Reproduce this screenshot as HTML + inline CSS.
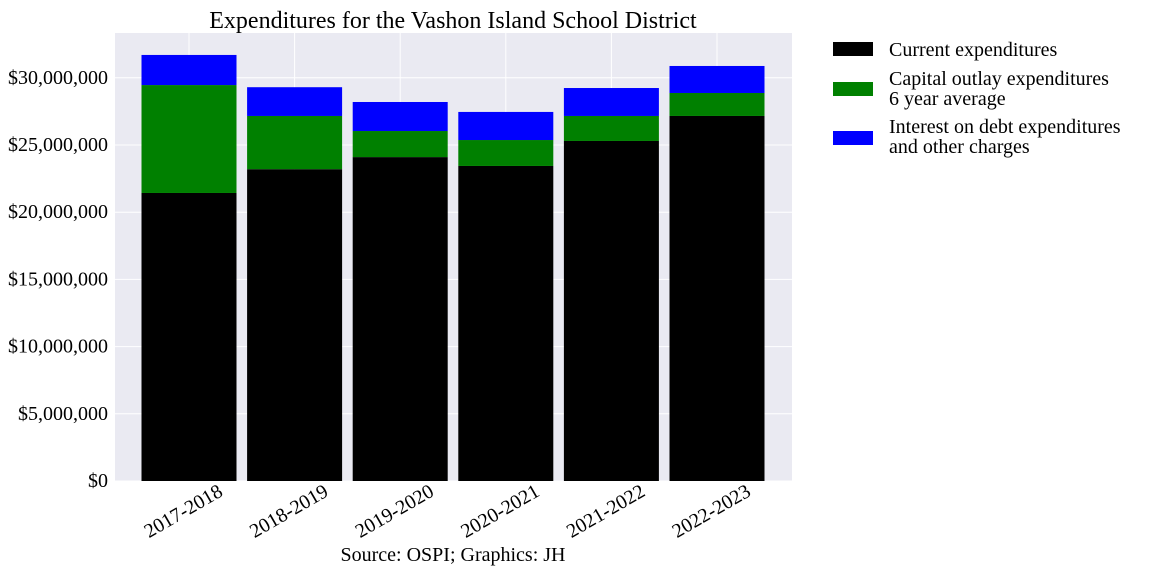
<!DOCTYPE html>
<html><head><meta charset="utf-8"><style>
body{margin:0;background:#fff;}
svg{font-family:"Liberation Serif",serif;}
</style></head><body>
<svg id="chart" width="1152" height="576">
<rect x="115" y="33" width="677" height="448" fill="#eaeaf2"/>
<g id="grid"></g><g id="bars"></g><g id="yticks"></g><g id="xticks"></g>
<text x="453" y="28" font-size="24" text-anchor="middle">Expenditures for the Vashon Island School District</text>
<text x="453" y="561" font-size="20" text-anchor="middle">Source: OSPI; Graphics: JH</text>
<g>
<rect x="833" y="42" width="40" height="14" fill="#000"/>
<text x="889" y="56" font-size="20">Current expenditures</text>
<rect x="833" y="82" width="40" height="14" fill="#008000"/>
<text x="889" y="85" font-size="20">Capital outlay expenditures</text>
<text x="889" y="105" font-size="20">6 year average</text>
<rect x="833" y="131" width="40" height="14" fill="#0000ff"/>
<text x="889" y="133" font-size="20">Interest on debt expenditures</text>
<text x="889" y="153" font-size="20">and other charges</text>
</g>
</svg>
<script>
const categories=["2017-2018","2018-2019","2019-2020","2020-2021","2021-2022","2022-2023"];
const current=[21430000,23200000,24100000,23440000,25300000,27160000];
const capital=[8030000,3960000,1940000,1930000,1860000,1710000];
const interest=[2240000,2140000,2160000,2090000,2080000,2010000];
const yTicks=[0,5000000,10000000,15000000,20000000,25000000,30000000];
const yTickLabels=["$0","$5,000,000","$10,000,000","$15,000,000","$20,000,000","$25,000,000","$30,000,000"];
const NS="http://www.w3.org/2000/svg";
const y=v=>481-v/5e6*67.2;
const x=i=>189+i*105.6;
const bw=95;
function mk(tag,attrs,parent){const e=document.createElementNS(NS,tag);for(const k in attrs)e.setAttribute(k,attrs[k]);document.getElementById(parent).appendChild(e);return e;}
yTicks.forEach((t,i)=>{
 const g=mk("line",{x1:115,x2:792,y1:y(t),y2:y(t),stroke:"#fff","stroke-width":1},"grid");
 
 
 const tx=mk("text",{x:108,y:y(t)+6,"font-size":20,"text-anchor":"end"},"yticks");
 tx.textContent=yTickLabels[i];
 
 
});
categories.forEach((c,i)=>{
 const gl=mk("line",{x1:x(i),x2:x(i),y1:33,y2:481,stroke:"#fff","stroke-width":1},"grid");
 
 
 const segs=[[0,current[i],"#000","current"],[current[i],current[i]+capital[i],"#008000","capital"],[current[i]+capital[i],current[i]+capital[i]+interest[i],"#0000ff","interest"]];
 segs.forEach(s=>{
  const r=mk("rect",{x:x(i)-bw/2,y:y(s[1]),width:bw,height:y(s[0])-y(s[1]),fill:s[2]},"bars");
  
  
 });
 const ax=x(i)+35;
 const t=mk("text",{x:ax,y:495,"font-size":20,"text-anchor":"end",transform:`rotate(-30 ${ax} 495)`},"xticks");
 t.textContent=c;
 
 
});
</script>
</body></html>
